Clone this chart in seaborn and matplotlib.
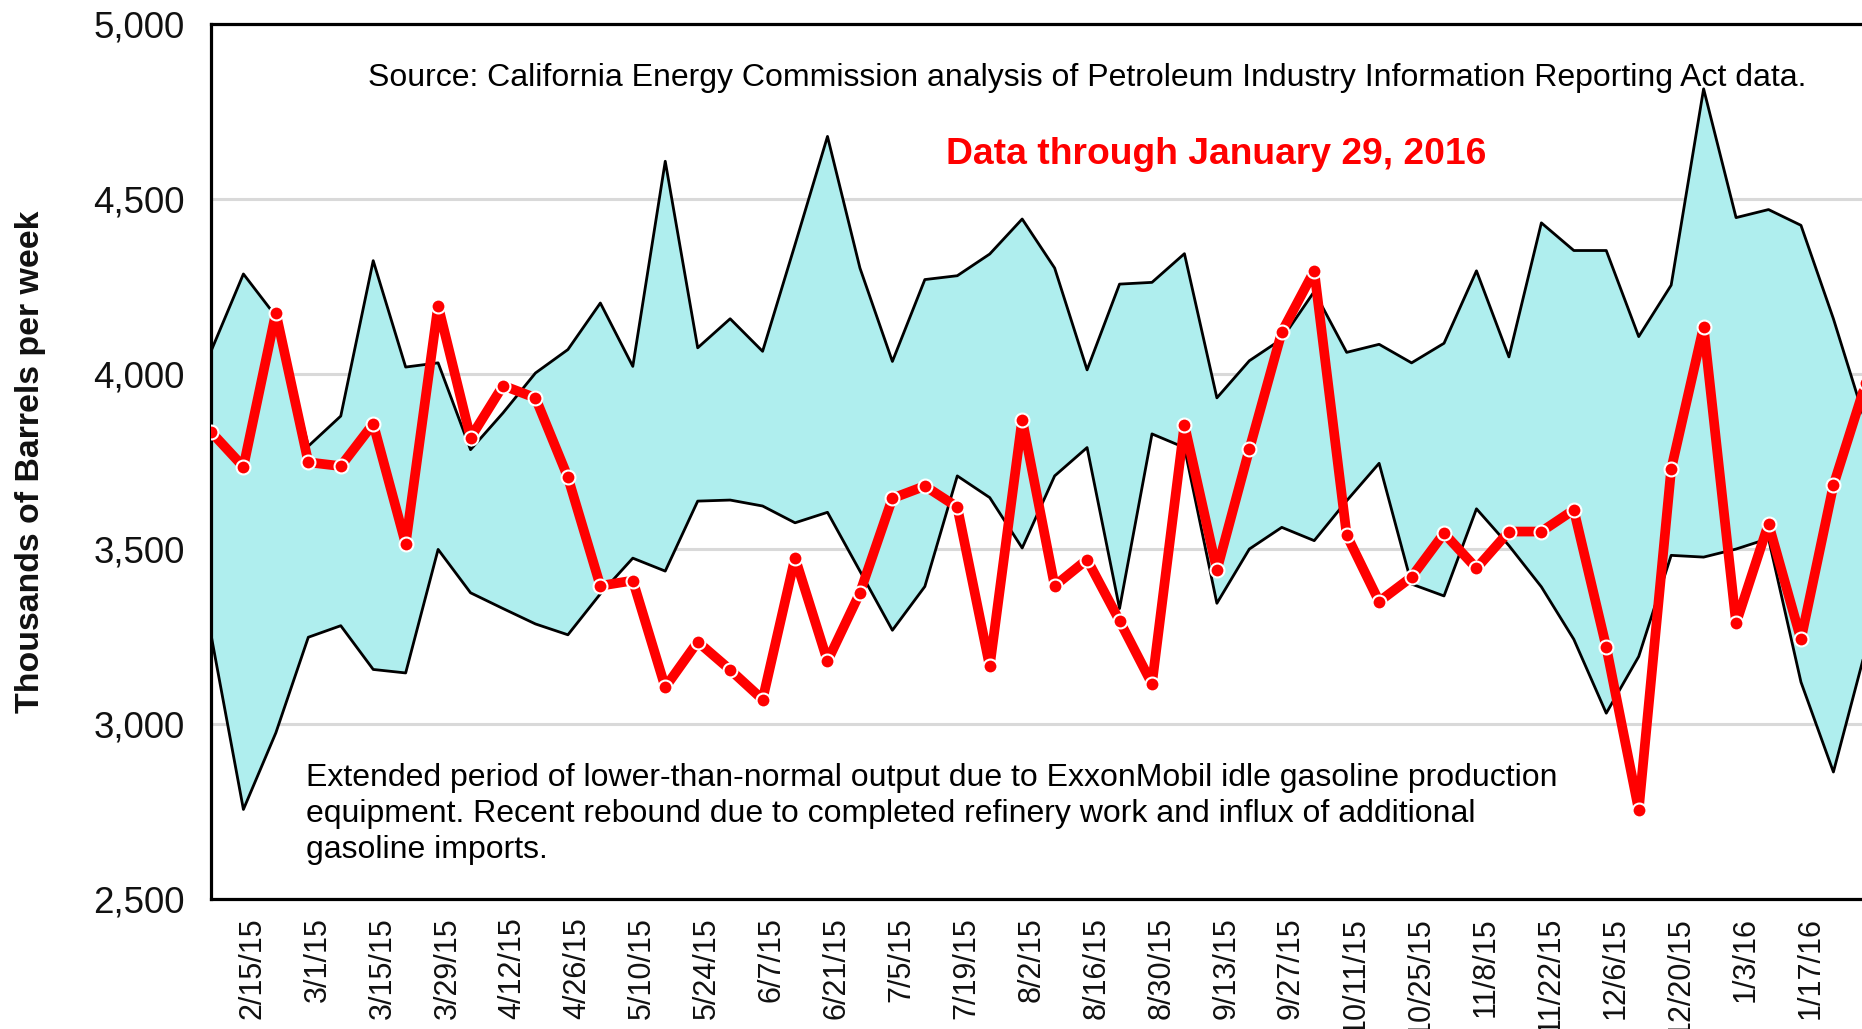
import matplotlib
matplotlib.use('Agg')
import matplotlib.pyplot as plt
import matplotlib.ticker as mticker
import pandas as pd
import seaborn as sns
from datetime import datetime

# weekly data points (Fridays), last one (Jan 29, 2016) falls just past the right edge
weeks = pd.date_range('2015-02-06', periods=52, freq='7D')

range_high = [4065, 4286, 4165, 3794, 3880, 4324, 4020, 4032, 3784, 3889,
              4003, 4070, 4203, 4022, 4608, 4075, 4158, 4065, 4370, 4679,
              4303, 4036, 4270, 4281, 4343, 4443, 4303, 4012, 4257, 4262,
              4344, 3932, 4038, 4100, 4236, 4062, 4085, 4032, 4088, 4295,
              4049, 4432, 4353, 4353, 4107, 4254, 4815, 4447, 4470, 4425,
              4158, 3860]

range_low = [3256, 2756, 2975, 3248, 3281, 3156, 3146, 3499, 3375, 3330,
             3286, 3255, 3372, 3474, 3437, 3637, 3640, 3623, 3575, 3605,
             3437, 3268, 3393, 3709, 3647, 3503, 3709, 3790, 3330, 3829,
             3790, 3345, 3500, 3562, 3524, 3638, 3745, 3400, 3366, 3615,
             3510, 3392, 3242, 3031, 3193, 3482, 3477, 3500, 3530, 3120,
             2863, 3215]

output_2015 = [3835, 3735, 4175, 3748, 3737, 3858, 3515, 4195, 3818, 3967,
               3932, 3705, 3395, 3410, 3105, 3235, 3155, 3070, 3475, 3180,
               3375, 3645, 3680, 3620, 3165, 3870, 3395, 3470, 3295, 3115,
               3855, 3440, 3785, 4120, 4295, 3540, 3350, 3420, 3545, 3445,
               3550, 3550, 3612, 3220, 2755, 3728, 4135, 3288, 3572, 3242,
               3682, 3975]

tick_labels = ['2/15/15', '3/1/15', '3/15/15', '3/29/15', '4/12/15', '4/26/15',
               '5/10/15', '5/24/15', '6/7/15', '6/21/15', '7/5/15', '7/19/15',
               '8/2/15', '8/16/15', '8/30/15', '9/13/15', '9/27/15', '10/11/15',
               '10/25/15', '11/8/15', '11/22/15', '12/6/15', '12/20/15',
               '1/3/16', '1/17/16']
tick_dates = [datetime.strptime(s, '%m/%d/%y') for s in tick_labels]
y_ticks = [2500, 3000, 3500, 4000, 4500, 5000]

sns.set_style('white')
plt.rcParams['font.family'] = ['Liberation Sans', 'DejaVu Sans']

fig = plt.figure(figsize=(18.62, 10.29), dpi=100)
ax = fig.add_axes([0.1133, 0.1263, 0.9062, 0.8503])

ax.fill_between(weeks, range_low, range_high, color='#AFEEEE', lw=0, zorder=1)
sns.lineplot(x=weeks, y=range_high, color='black', lw=2.0, ax=ax, zorder=2)
sns.lineplot(x=weeks, y=range_low, color='black', lw=2.0, ax=ax, zorder=2)
sns.lineplot(x=weeks, y=output_2015, color='#FF0000', lw=7, marker='o',
             markersize=10, markeredgecolor='white', markeredgewidth=1.5,
             ax=ax, zorder=3)

ax.set_xlim(weeks[0], pd.Timestamp('2016-02-05'))
ax.set_ylim(2500, 5000)
ax.set_xticks(tick_dates)
ax.set_xticklabels(tick_labels, rotation=90)
ax.set_yticks(y_ticks)
ax.yaxis.set_major_formatter(mticker.StrMethodFormatter('{x:,.0f}'))
ax.yaxis.grid(True, color='#d9d9d9', lw=2.2)
ax.xaxis.grid(False)
ax.set_axisbelow(True)
ax.tick_params(axis='y', length=13, width=1.2, color='#666666', pad=6,
               labelsize=26.5, labelcolor='#111111')
ax.tick_params(axis='x', length=9, width=1.2, color='#666666', pad=4,
               labelsize=22, labelcolor='#111111')
for side in ['top', 'left', 'bottom']:
    ax.spines[side].set_color('black')
    ax.spines[side].set_linewidth(2.3)
ax.spines['right'].set_visible(False)
ax.set_xlabel('')
ax.set_ylabel('')

fig.text(0.0165, 0.551, 'Thousands of Barrels per week', rotation=90,
         ha='center', va='center', fontsize=24.4, fontweight='bold', color='#111111')
fig.text(0.1976, 0.9245,
         'Source: California Energy Commission analysis of Petroleum Industry Information Reporting Act data.',
         ha='left', va='center', fontsize=23, color='black')
fig.text(0.508, 0.8503, 'Data through January 29, 2016', ha='left', va='center',
         fontsize=26.8, fontweight='bold', color='#FF0000')
fig.text(0.1643, 0.2094,
         'Extended period of lower-than-normal output due to ExxonMobil idle gasoline production\n'
         'equipment. Recent rebound due to completed refinery work and influx of additional\n'
         'gasoline imports.',
         ha='left', va='center', fontsize=23, linespacing=1.26, color='black')

fig.savefig('out.png', dpi=100)
